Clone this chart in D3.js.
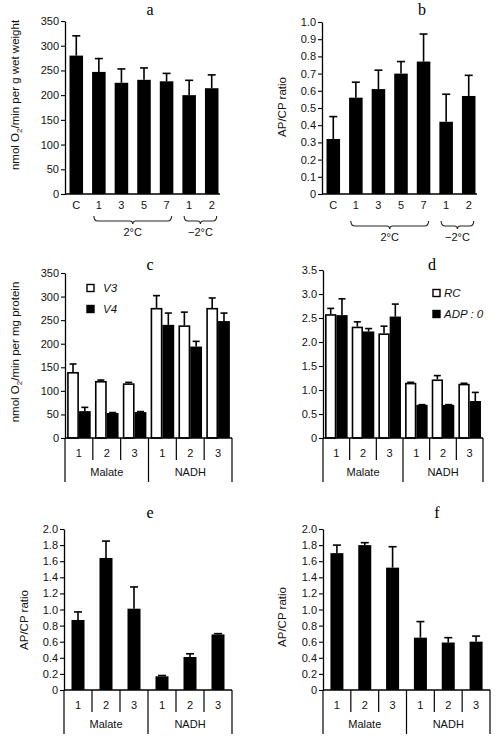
<!DOCTYPE html>
<html>
<head>
<meta charset="utf-8">
<script src="https://cdn.jsdelivr.net/npm/d3@7"></script>
<style>
  html, body { margin: 0; padding: 0; background: #fff; }
  svg { display: block; font-family: "Liberation Sans", Arial, sans-serif; }
</style>
</head>
<body>
<svg id="chart" width="501" height="743"></svg>
<script>
// ---------- data ----------
const abCategories = ["C", "1", "3", "5", "7", "1", "2"];
const abBrackets = [
  { label: "2°C", from: 1, to: 4 },
  { label: "−2°C", from: 5, to: 6 }
];
const aMeans = [280, 247, 225, 231, 228, 200, 214];
const aErrors = [40, 27, 28, 24, 16, 30, 27];
const aTicks = [0, 50, 100, 150, 200, 250, 300, 350];

const bMeans = [0.32, 0.56, 0.61, 0.70, 0.77, 0.42, 0.57];
const bErrors = [0.13, 0.09, 0.11, 0.07, 0.16, 0.16, 0.12];
const bTicks = [0, 0.1, 0.2, 0.3, 0.4, 0.5, 0.6, 0.7, 0.8, 0.9, 1.0];

const subCategories = ["1", "2", "3", "1", "2", "3"];
const groupNames = ["Malate", "NADH"];

const cV3 = [140, 121, 116, 276, 239, 276];
const cV3Err = [17, 2, 2, 26, 28, 21];
const cV4 = [57, 53, 55, 240, 194, 248];
const cV4Err = [8, 1, 1, 25, 11, 17];
const cTicks = [0, 50, 100, 150, 200, 250, 300, 350];

const dRC = [2.58, 2.32, 2.18, 1.15, 1.22, 1.13];
const dRCErr = [0.12, 0.10, 0.15, 0.01, 0.08, 0.01];
const dADP = [2.56, 2.22, 2.53, 0.69, 0.69, 0.77];
const dADPErr = [0.34, 0.06, 0.26, 0.005, 0.005, 0.18];
const dTicks = [0, 0.5, 1.0, 1.5, 2.0, 2.5, 3.0, 3.5];

const eMeans = [0.87, 1.64, 1.01, 0.17, 0.41, 0.69];
const eErrors = [0.10, 0.21, 0.27, 0.01, 0.04, 0.01];
const fMeans = [1.70, 1.80, 1.52, 0.65, 0.59, 0.60];
const fErrors = [0.10, 0.03, 0.26, 0.20, 0.06, 0.07];
const efTicks = [0, 0.2, 0.4, 0.6, 0.8, 1.0, 1.2, 1.4, 1.6, 1.8, 2.0];

// ---------- helpers ----------
const svg = d3.select("#chart");
const intFmt = d => d3.format("d")(d);
const decFmt = d => d === 0 ? "0" : d3.format(".1f")(d);

function yAxis(g, y, ticks, fmt) {
  const ax = d3.axisLeft(y).tickValues(ticks).tickFormat(fmt)
    .tickSize(4).tickSizeOuter(0).tickPadding(2);
  g.call(ax);
  g.select(".domain").attr("stroke", "#000").attr("stroke-width", 1.3);
  g.selectAll(".tick line").attr("stroke", "#000").attr("stroke-width", 1.1);
  g.selectAll(".tick text").attr("font-size", 11)
    .attr("font-family", "'Liberation Sans', Arial, sans-serif").attr("fill", "#111");
}

function title(txt, x, y) {
  svg.append("text").attr("x", x).attr("y", y).attr("text-anchor", "middle")
    .attr("font-family", "'Liberation Serif', 'Times New Roman', serif")
    .attr("font-size", 16).text(txt);
}

function yLabel(parts, x, y) {
  const t = svg.append("text").attr("transform", `translate(${x},${y}) rotate(-90)`)
    .attr("text-anchor", "middle").attr("font-size", 11.5).attr("fill", "#111");
  parts.forEach(p => {
    const ts = t.append("tspan").text(p.t);
    if (p.sub) ts.attr("font-size", 8).attr("dy", 3);
    if (p.after) ts.attr("dy", -3);
  });
}

function errBars(g, xs, means, errs, y, cap) {
  means.forEach((m, i) => {
    const top = y(m + errs[i]);
    g.append("line").attr("x1", xs[i]).attr("x2", xs[i])
      .attr("y1", y(m)).attr("y2", top).attr("stroke", "#000").attr("stroke-width", 1.6);
    g.append("line").attr("x1", xs[i] - cap / 2).attr("x2", xs[i] + cap / 2)
      .attr("y1", top).attr("y2", top).attr("stroke", "#000").attr("stroke-width", 1.6);
  });
}

// ---------- panels a & b ----------
function simplePanel(cfg) {
  const g = svg.append("g");
  const x = d3.scaleBand().domain(d3.range(abCategories.length))
    .range([cfg.x0, cfg.x1]).paddingInner(0.4).paddingOuter(0.2);
  const y = d3.scaleLinear().domain(cfg.domain).range([cfg.yb, cfg.yt]);
  // bars
  g.selectAll("rect.bar").data(cfg.means).join("rect")
    .attr("x", (d, i) => x(i)).attr("width", x.bandwidth())
    .attr("y", d => y(d)).attr("height", d => y(0) - y(d)).attr("fill", "#000");
  errBars(g, cfg.means.map((d, i) => x(i) + x.bandwidth() / 2), cfg.means, cfg.errs, y, 8);
  // baseline
  g.append("line").attr("x1", cfg.x0).attr("x2", cfg.x1 - 3)
    .attr("y1", y(0)).attr("y2", y(0)).attr("stroke", "#000").attr("stroke-width", 1.3);
  yAxis(g.append("g").attr("transform", `translate(${cfg.x0},0)`), y, cfg.ticks, cfg.fmt);
  // category labels
  g.selectAll("text.cat").data(abCategories).join("text")
    .attr("x", (d, i) => x(i) + x.bandwidth() / 2).attr("y", y(0) + 15)
    .attr("text-anchor", "middle").attr("font-size", 11).attr("fill", "#111").text(d => d);
  // brackets
  abBrackets.forEach(b => {
    const xa = x(b.from) + x.bandwidth() / 2 - 5;
    const xb = x(b.to) + x.bandwidth() / 2 + 5;
    const c = (xa + xb) / 2;
    const y0 = y(0) + 22 + cfg.bo, y1 = y0 + 5;
    const p = `M${xa},${y0} Q${xa},${y1} ${xa + 4},${y1} L${c - 3},${y1} Q${c},${y1} ${c},${y1 + 3} Q${c},${y1} ${c + 3},${y1} L${xb - 4},${y1} Q${xb},${y1} ${xb},${y0}`;
    g.append("path").attr("d", p).attr("fill", "none").attr("stroke", "#222").attr("stroke-width", 1.1);
    g.append("text").attr("x", c).attr("y", y1 + 15).attr("text-anchor", "middle")
      .attr("font-size", 11).attr("fill", "#111").text(b.label);
  });
}

simplePanel({ x0: 65, x1: 223, yt: 21, yb: 194, domain: [0, 350], means: aMeans, errs: aErrors, ticks: aTicks, fmt: intFmt, bo: 0 });
simplePanel({ x0: 322, x1: 480, yt: 22, yb: 194, domain: [0, 1], means: bMeans, errs: bErrors, ticks: bTicks, fmt: decFmt, bo: 5 });
title("a", 150, 15);
title("b", 422, 15);
yLabel([{ t: "nmol O" }, { t: "2", sub: true }, { t: "/min per g wet weight", after: true }], 19, 95);
yLabel([{ t: "AP/CP ratio" }], 286, 107);

// ---------- grouped panels c–f ----------
function groupedPanel(cfg) {
  const g = svg.append("g");
  const x = d3.scaleBand().domain(d3.range(subCategories.length)).range([cfg.x0, cfg.x1]);
  const y = d3.scaleLinear().domain(cfg.domain).range([cfg.yb, cfg.yt]);
  const bw = x.bandwidth();
  if (cfg.series.length === 2) {
    const sub = d3.scaleBand().domain([0, 1]).range([0, bw]).paddingOuter(0.18).paddingInner(0);
    cfg.series.forEach((s, si) => {
      g.selectAll(null).data(s.vals).join("rect")
        .attr("x", (d, i) => x(i) + sub(si) + (si === 0 ? 0.8 : 0))
        .attr("width", sub.bandwidth() - (si === 0 ? 1.6 : 0))
        .attr("y", d => y(d) + (si === 0 ? 0.8 : 0))
        .attr("height", d => y(0) - y(d) - (si === 0 ? 0.8 : 0))
        .attr("fill", si === 0 ? "#fff" : "#000")
        .attr("stroke", "#000").attr("stroke-width", si === 0 ? 1.6 : 0);
      errBars(g, s.vals.map((d, i) => x(i) + sub(si) + sub.bandwidth() / 2), s.vals, s.errs, y, 7);
    });
  } else {
    const s = cfg.series[0];
    const w = 13;
    g.selectAll(null).data(s.vals).join("rect")
      .attr("x", (d, i) => x(i) + bw / 2 - w / 2).attr("width", w)
      .attr("y", d => y(d)).attr("height", d => y(0) - y(d)).attr("fill", "#000");
    errBars(g, s.vals.map((d, i) => x(i) + bw / 2), s.vals, s.errs, y, 8);
  }
  const yb = y(0);
  // baseline
  g.append("line").attr("x1", cfg.x0).attr("x2", cfg.x1)
    .attr("y1", yb).attr("y2", yb).attr("stroke", "#000").attr("stroke-width", 1.3);
  // dividers
  const bounds = d3.range(subCategories.length + 1).map(i => i < subCategories.length ? x(i) : cfg.x1);
  bounds.forEach((bx, i) => {
    const long = i % 3 === 0;
    g.append("line").attr("x1", bx).attr("x2", bx).attr("y1", yb)
      .attr("y2", yb + (long ? 44 : 22)).attr("stroke", "#000").attr("stroke-width", 1.2);
  });
  g.selectAll("text.sub").data(subCategories).join("text")
    .attr("x", (d, i) => x(i) + bw / 2).attr("y", yb + 19)
    .attr("text-anchor", "middle").attr("font-size", 11).attr("fill", "#111").text(d => d);
  g.selectAll("text.grp").data(groupNames).join("text")
    .attr("x", (d, i) => (x(i * 3) + (i === 1 ? cfg.x1 : x(3))) / 2).attr("y", yb + 38)
    .attr("text-anchor", "middle").attr("font-size", 11).attr("fill", "#111").text(d => d);
  yAxis(g.append("g").attr("transform", `translate(${cfg.x0},0)`), y, cfg.ticks, cfg.fmt);
  // legend
  if (cfg.legend) {
    cfg.legend.forEach((L, i) => {
      const ly = cfg.legendY + i * 21;
      g.append("rect").attr("x", cfg.legendX - 3).attr("y", ly - 3.5).attr("width", 7).attr("height", 7)
        .attr("fill", i === 0 ? "#fff" : "#000").attr("stroke", "#000").attr("stroke-width", 1.4);
      g.append("text").attr("x", cfg.legendX + cfg.legendGap).attr("y", ly + 4)
        .attr("font-size", 11.5).attr("font-style", "italic").attr("fill", "#111").text(L);
    });
  }
}

groupedPanel({ x0: 65, x1: 232, yt: 273, yb: 438, domain: [0, 350], ticks: cTicks, fmt: intFmt,
  series: [{ vals: cV3, errs: cV3Err }, { vals: cV4, errs: cV4Err }],
  legend: ["V3", "V4"], legendX: 90, legendY: 288, legendGap: 13 });
groupedPanel({ x0: 323, x1: 483, yt: 270, yb: 438, domain: [0, 3.5], ticks: dTicks, fmt: decFmt,
  series: [{ vals: dRC, errs: dRCErr }, { vals: dADP, errs: dADPErr }],
  legend: ["RC", "ADP : 0"], legendX: 436, legendY: 293, legendGap: 8 });
groupedPanel({ x0: 64, x1: 232, yt: 529, yb: 690, domain: [0, 2], ticks: efTicks, fmt: decFmt,
  series: [{ vals: eMeans, errs: eErrors }] });
groupedPanel({ x0: 323, x1: 490, yt: 529, yb: 690, domain: [0, 2], ticks: efTicks, fmt: decFmt,
  series: [{ vals: fMeans, errs: fErrors }] });

title("c", 150, 270);
title("d", 432, 270);
title("e", 150, 518);
title("f", 437, 518);
yLabel([{ t: "nmol O" }, { t: "2", sub: true }, { t: "/min per mg protein", after: true }], 19, 352);
yLabel([{ t: "AP/CP ratio" }], 28, 620);
yLabel([{ t: "AP/CP ratio" }], 286, 617);
</script>
</body>
</html>
